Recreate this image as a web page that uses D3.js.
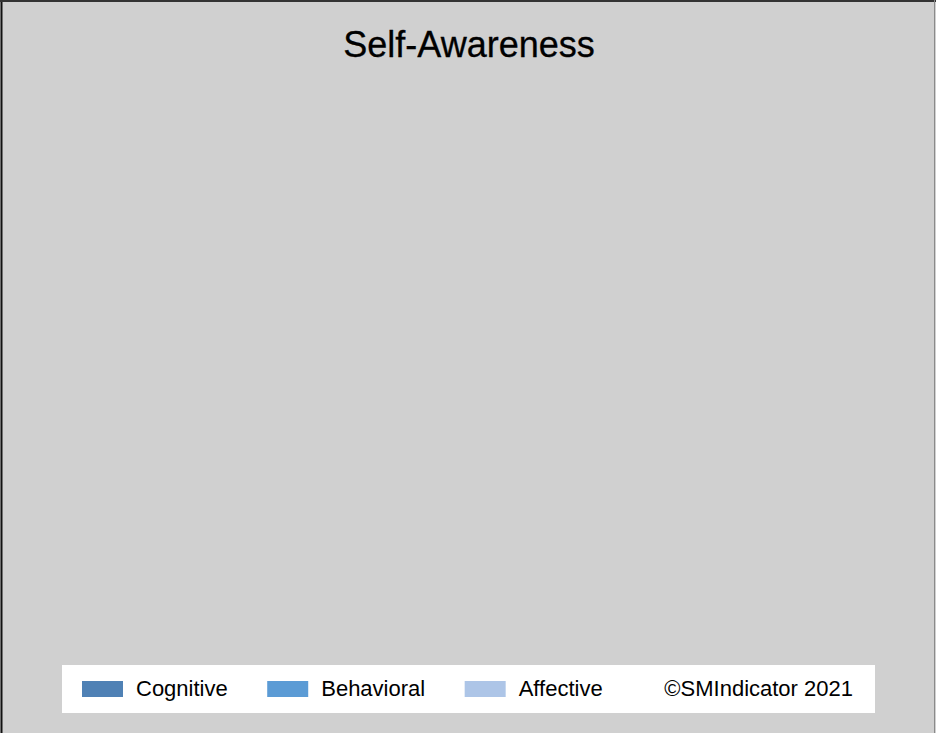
<!DOCTYPE html>
<html>
<head>
<meta charset="utf-8">
<script src="https://cdn.jsdelivr.net/npm/d3@7"></script>
<style>
  html, body { margin: 0; padding: 0; background: #fff; }
  svg { display: block; font-family: "Liberation Sans", Arial, sans-serif; }
</style>
</head>
<body>
<div id="chart"></div>
<script>
// Chart content
const chartTitle = "Self-Awareness";
const seriesNames = ["Cognitive", "Behavioral", "Affective"];
const seriesColors = ["#4f81b5", "#5b9bd5", "#adc5e7"];
const creditText = "\u00A9SMIndicator 2021";

const width = 936, height = 733;

const svg = d3.select("#chart").append("svg")
  .attr("width", width)
  .attr("height", height);

// background + frame
svg.append("rect")
  .attr("width", width).attr("height", height)
  .attr("fill", "#d0d0d0");
svg.append("line").attr("x1", 1.5).attr("x2", 1.5).attr("y1", 0).attr("y2", height)
  .attr("stroke", "#111").attr("stroke-width", 2);
svg.append("line").attr("x1", 0).attr("x2", width).attr("y1", 1).attr("y2", 1)
  .attr("stroke", "#333").attr("stroke-width", 2);
svg.append("line").attr("x1", 934.5).attr("x2", 934.5).attr("y1", 0).attr("y2", height)
  .attr("stroke", "#8a8a8a").attr("stroke-width", 1);

// title
svg.append("text")
  .attr("x", 469).attr("y", 57)
  .attr("text-anchor", "middle")
  .attr("font-size", 36)
  .attr("fill", "#000")
  .attr("stroke", "#000").attr("stroke-width", 0.3)
  .text(chartTitle);

// legend
const color = d3.scaleOrdinal().domain(seriesNames).range(seriesColors);

const legend = svg.append("g").attr("class", "legend");
legend.append("rect")
  .attr("x", 62).attr("y", 665)
  .attr("width", 813).attr("height", 48)
  .attr("fill", "#fff");

let x = 82;
seriesNames.forEach(name => {
  legend.append("rect")
    .attr("x", x).attr("y", 681)
    .attr("width", 41).attr("height", 16)
    .attr("fill", color(name));
  const t = legend.append("text")
    .attr("x", x + 54).attr("y", 696)
    .attr("font-size", 22)
    .attr("fill", "#000")
    .text(name);
  x += 54 + t.node().getComputedTextLength() + 39.5;
});

legend.append("text")
  .attr("x", 853).attr("y", 696)
  .attr("text-anchor", "end")
  .attr("font-size", 22)
  .attr("fill", "#000")
  .text(creditText);
</script>
</body>
</html>
